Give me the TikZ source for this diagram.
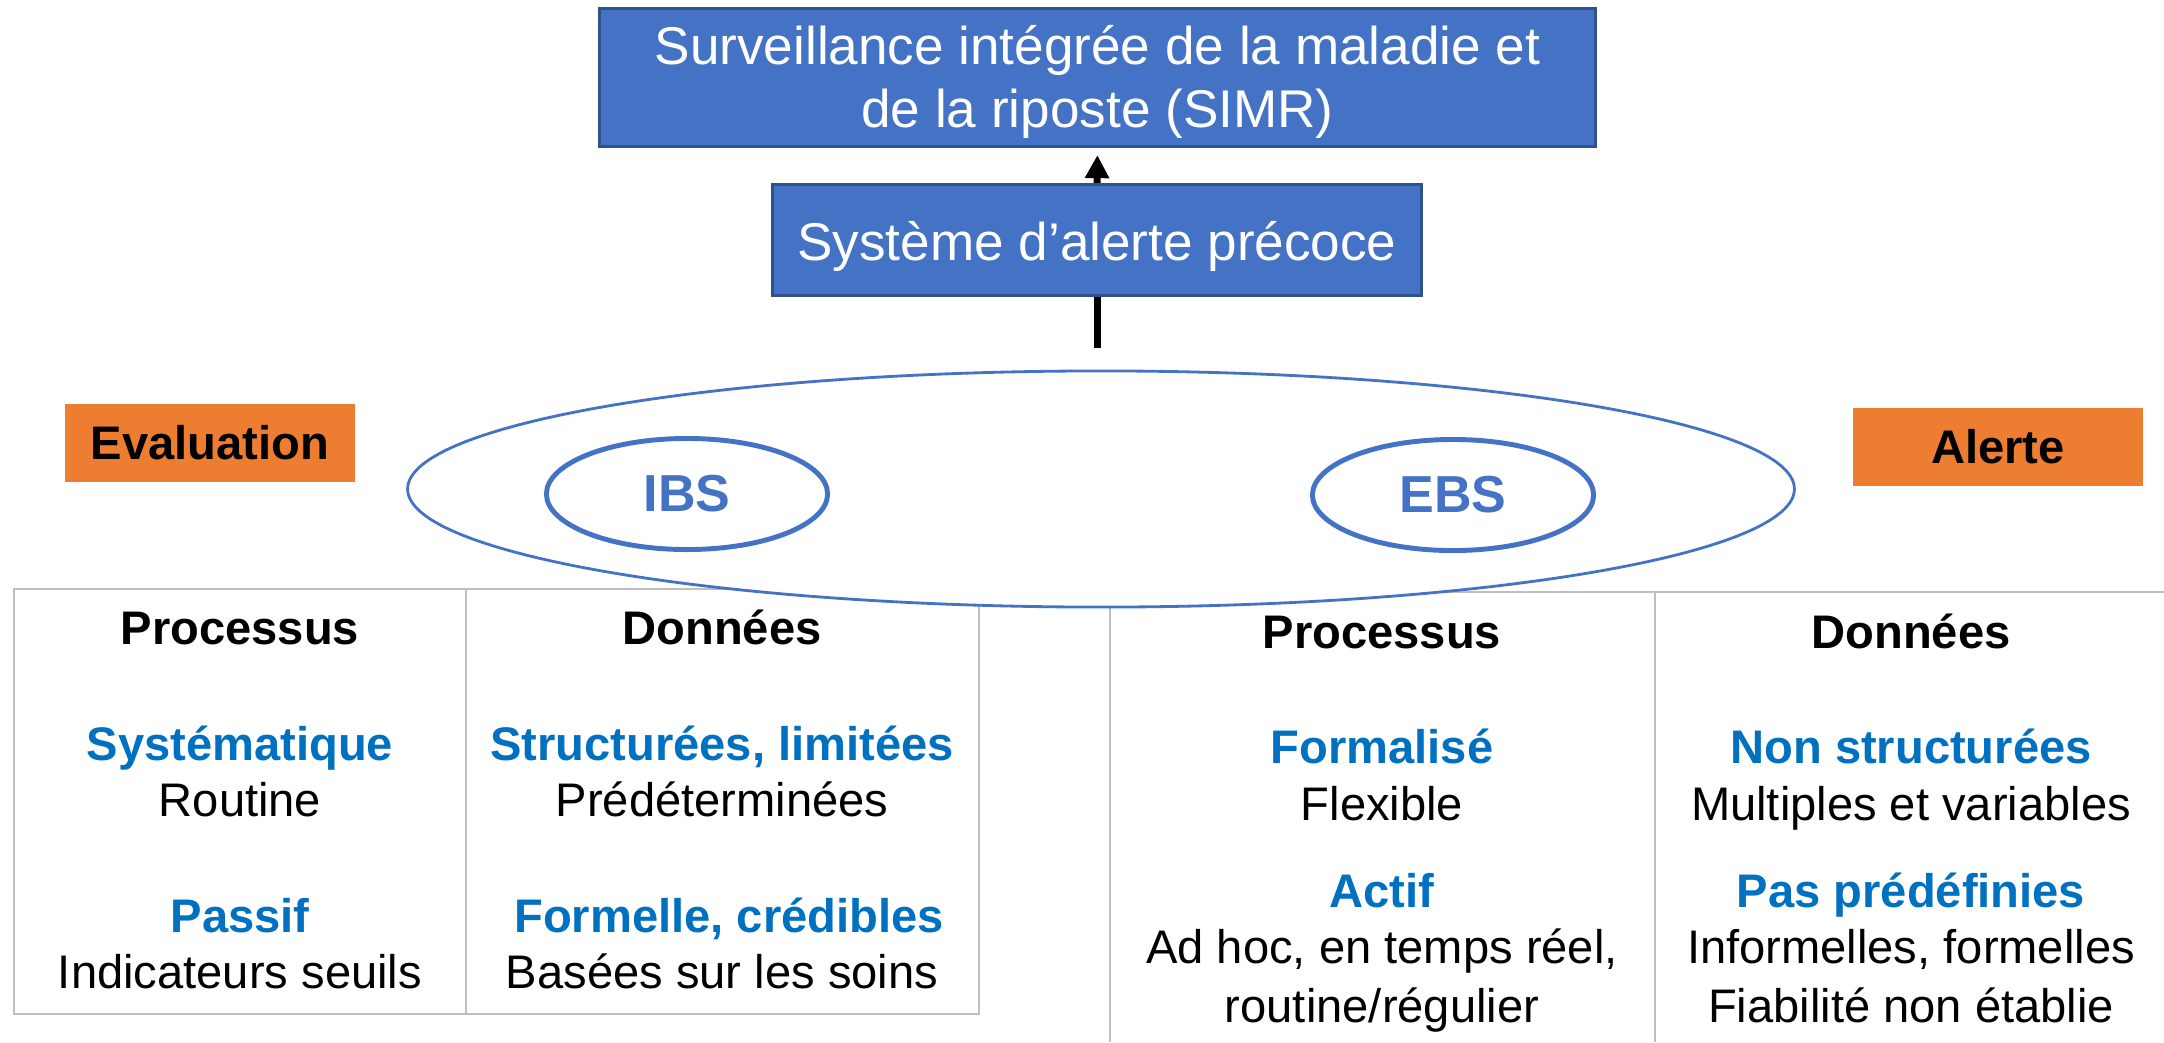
\documentclass[tikz,border=0pt]{standalone}
\usepackage{fontspec}
\setmainfont{Liberation Sans}
\usetikzlibrary{shapes.geometric,arrows.meta}

\definecolor{boxblue}{HTML}{4472C4}
\definecolor{boxedge}{HTML}{2F528F}
\definecolor{tagorange}{HTML}{ED7D31}
\definecolor{textblue}{HTML}{0070C0}
\definecolor{rulegray}{HTML}{BFBFBF}

\tikzset{
    bluebox/.style={draw=boxedge, line width=0.9pt, fill=boxblue, text=white, inner sep=0pt,
        align=center, font=\fontsize{15.1}{17.9}\selectfont},
    tag/.style={fill=tagorange, inner sep=0pt, minimum width=2.9cm, minimum height=0.78cm,
        font=\bfseries\fontsize{13.4}{16}\selectfont},
    oval/.style={ellipse, draw=boxblue, inner sep=0pt},
    colhead/.style={anchor=base, font=\bfseries\fontsize{13.4}{16}\selectfont},
    keyword/.style={colhead, text=textblue},
    detail/.style={anchor=base, font=\fontsize{13.4}{16}\selectfont},
    link/.style={line width=2pt}
}

\begin{document}
\begin{tikzpicture}[x=0.01cm, y=-0.01cm]
            \useasboundingbox (0,0) rectangle (2164,1042);
            \node[bluebox, minimum width=9.96cm, minimum height=1.38cm, text height=31.8pt] (simr) at (1097.5,77.5)
                {Surveillance intégrée de la maladie et\\de la riposte (SIMR)};
            \node[bluebox, minimum width=6.49cm, minimum height=1.11cm, text height=13.7pt, text depth=2.3pt] (ews) at (1097,240)
                {Système d’alerte précoce};
            % les deux tableaux
            \draw[rulegray, line width=0.6pt] (14,589) rectangle (979,1014) (466,589) -- (466,1014);
            \draw[rulegray, line width=0.6pt] (2164,592) -- (1110,592) -- (1110,1042)
                (1655,592) -- (1655,1042);
            \node[oval, fill=white, line width=0.8pt, minimum width=13.86cm, minimum height=2.36cm] (sys) at (1101,489) {};
            \node[oval, line width=1.4pt, minimum width=2.81cm, minimum height=1.11cm, text=boxblue,
                font=\bfseries\fontsize{14.8}{17}\selectfont] (ibs) at (687,494) {IBS};
            \node[oval, line width=1.4pt, minimum width=2.81cm, minimum height=1.11cm, text=boxblue,
                font=\bfseries\fontsize{14.8}{17}\selectfont] (ebs) at (1453,495) {EBS};
            \coordinate (stem) at (1097,348);
            \draw[link] (stem) -- (ews.south);
            \draw[link, -{Triangle[length=2.3mm, width=2.3mm]}, shorten >=0.7mm] (ews.north) -- (simr.south);
            \node[tag] (eval) at (210,443) {Evaluation};
            \node[tag] (alert) at (1998,447) {Alerte};
            % IBS
            \node[colhead] (ibsproc) at (240,644) {Processus};
            \node[keyword] (ibssys) at (240,760) {Systématique};
            \node[detail] (ibsrout) at (240,816) {Routine};
            \node[keyword] (ibspass) at (240,932) {Passif};
            \node[detail] (ibsind) at (240,988) {Indicateurs seuils};
            \node[colhead] (ibsdata) at (722,644) {Données};
            \node[keyword] (ibsstruct) at (722,760) {Structurées, limitées};
            \node[detail] (ibspred) at (722,816) {Prédéterminées};
            \node[keyword] (ibsform) at (729,932) {Formelle, crédibles};
            \node[detail] (ibssoins) at (722,988) {Basées sur les soins};
            % EBS
            \node[colhead] (ebsproc) at (1382,648) {Processus};
            \node[keyword] (ebsformal) at (1382,763) {Formalisé};
            \node[detail] (ebsflex) at (1382,820) {Flexible};
            \node[keyword] (ebsact) at (1382,907) {Actif};
            \node[detail] (ebsadhoc) at (1382,963) {Ad hoc, en temps réel,};
            \node[detail] (ebsrout) at (1382,1022) {routine/régulier};
            \node[colhead] (ebsdata) at (1911,648) {Données};
            \node[keyword] (ebsnon) at (1911,763) {Non structurées};
            \node[detail] (ebsmult) at (1911,820) {Multiples et variables};
            \node[keyword] (ebspas) at (1911,907) {Pas prédéfinies};
            \node[detail] (ebsinf) at (1911,963) {Informelles, formelles};
            \node[detail] (ebsfiab) at (1911,1022) {Fiabilité non établie};
        \end{tikzpicture}
\end{document}
